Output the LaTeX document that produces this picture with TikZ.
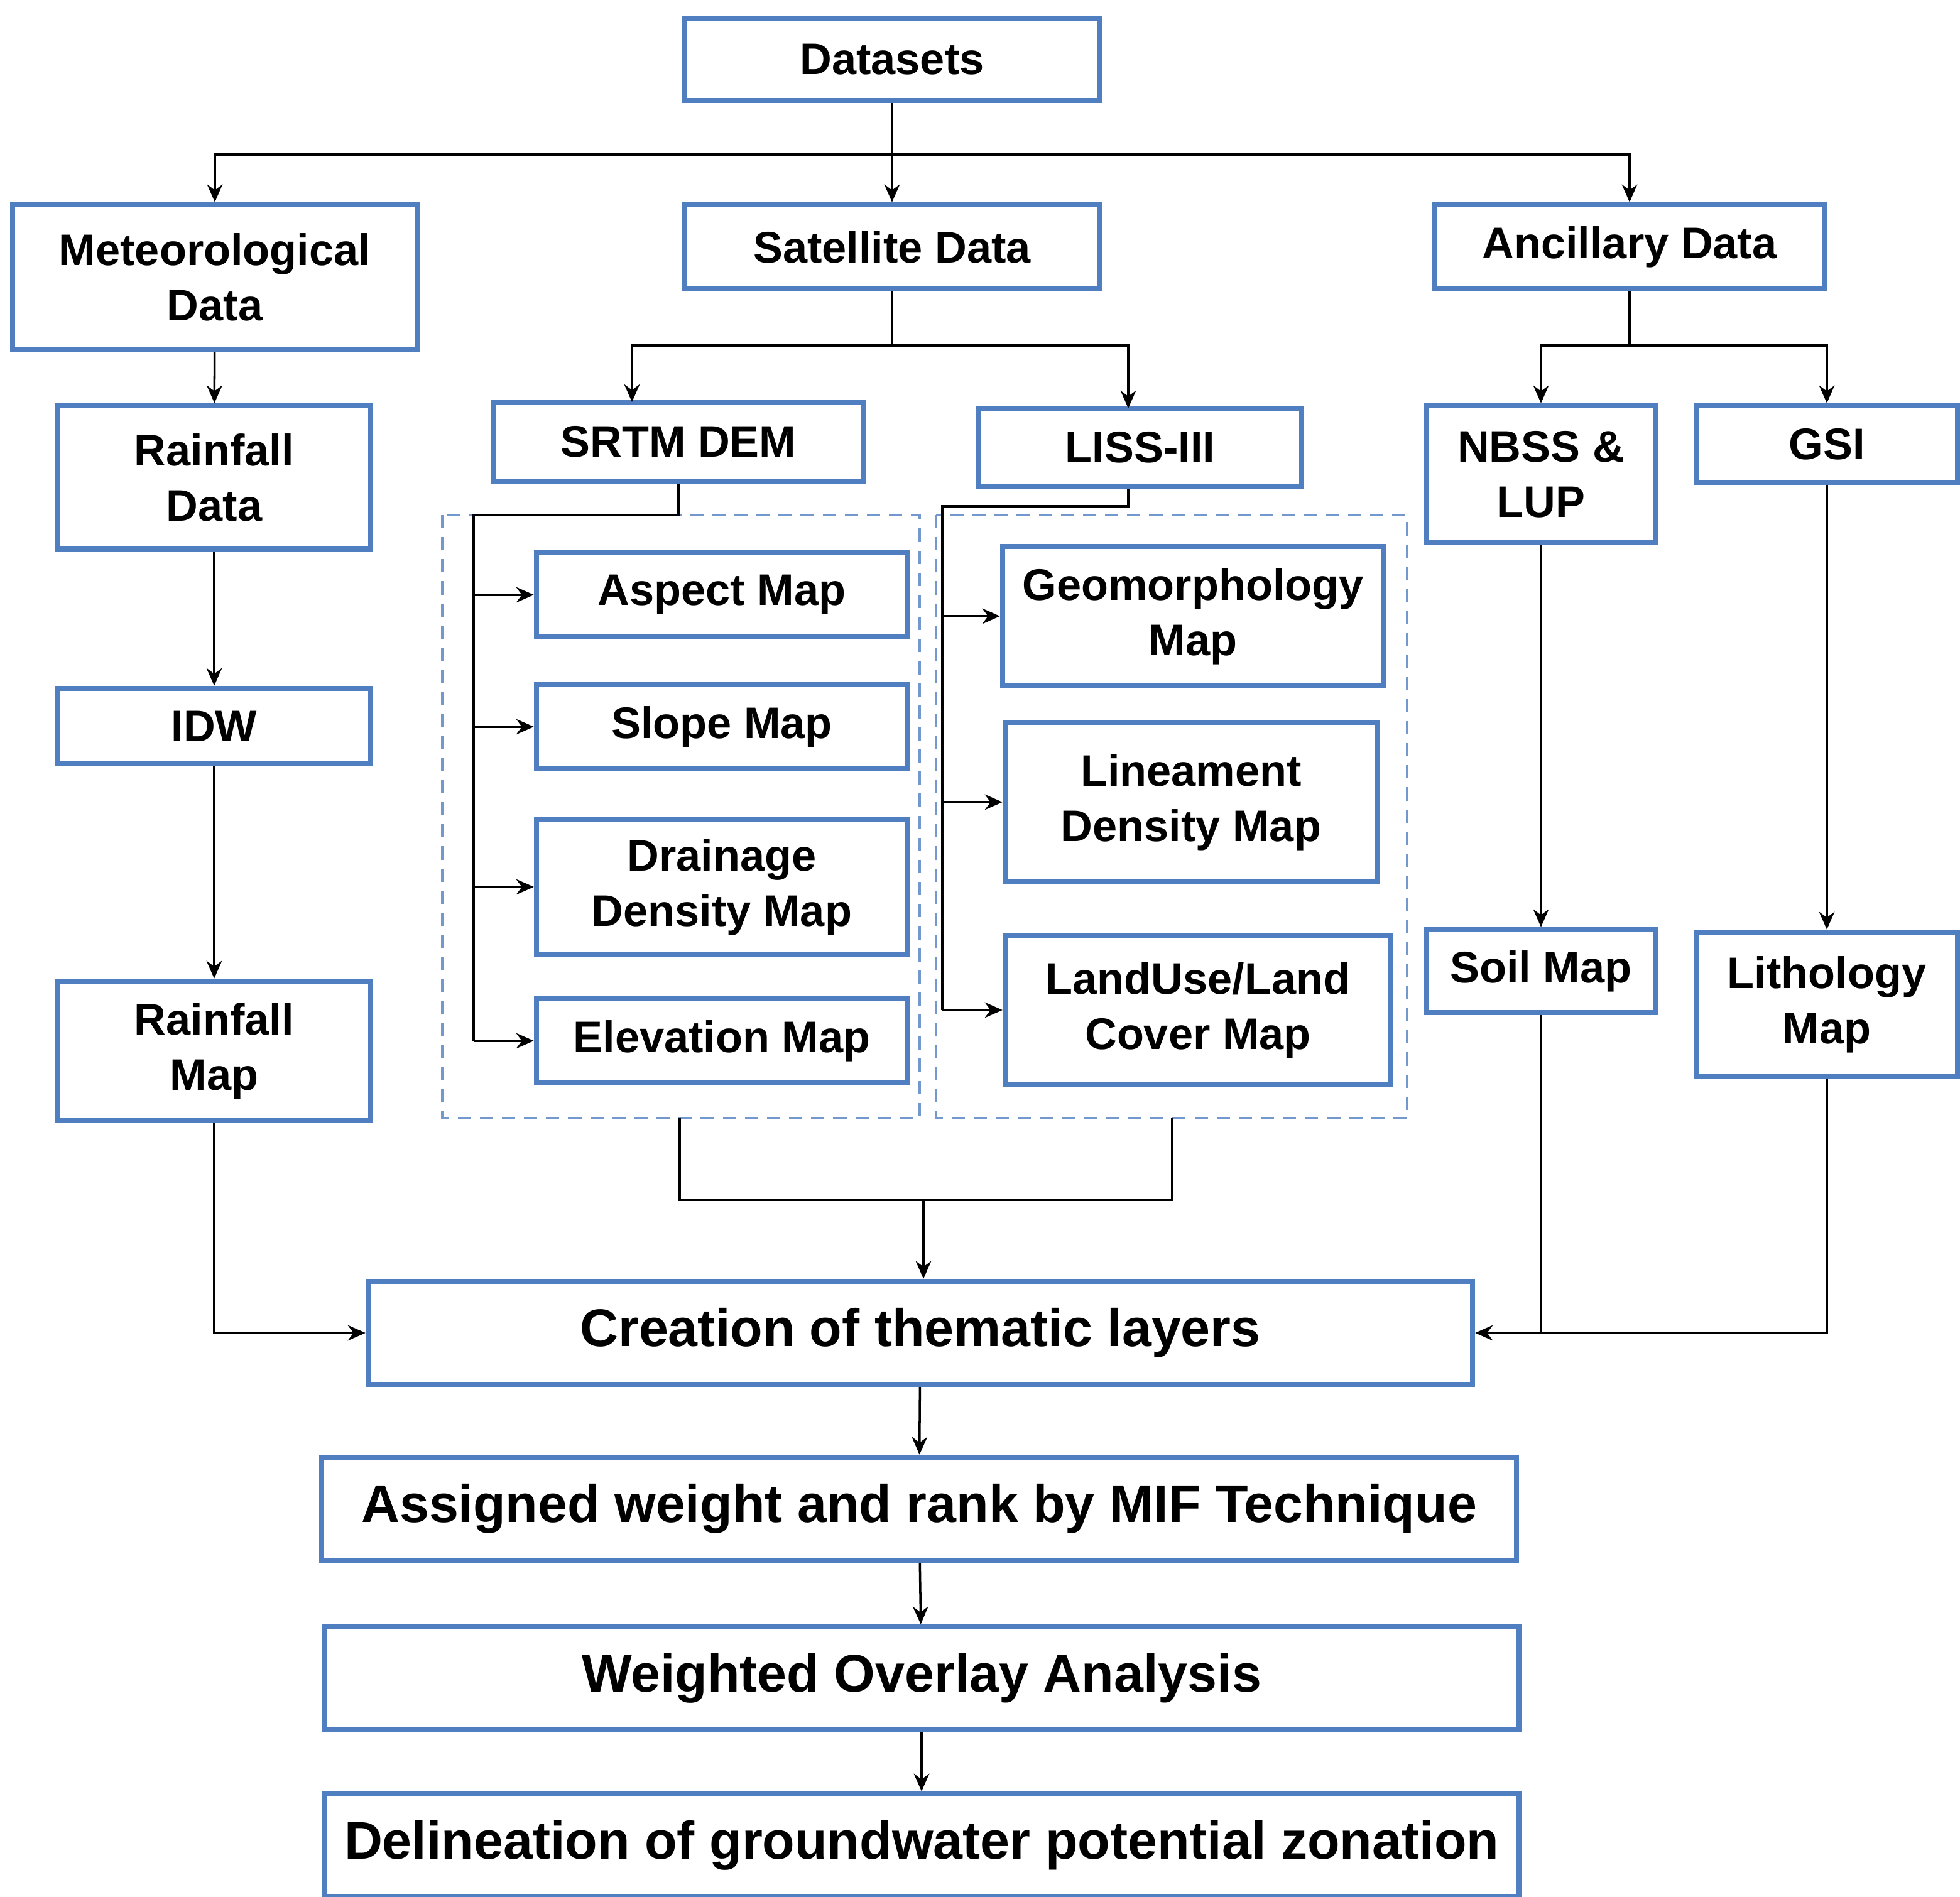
\documentclass[tikz,border=0pt]{standalone}
\usepackage{fontspec}
\setmainfont{Liberation Sans}
\usetikzlibrary{arrows.meta}
\definecolor{boxblue}{HTML}{4F7FC0}
\tikzset{
  x=0.01cm, y=-0.01cm,
  box/.style={draw=boxblue, line width=1.2pt, align=center, inner sep=0pt,
              font=\bfseries\fontsize{10}{12.5}\selectfont},
  big/.style={box, font=\bfseries\fontsize{12}{14}\selectfont},
  arr/.style={-{Stealth[length=4pt,width=3.5pt]}},
  every path/.append style={line width=0.5pt},
}
\newcommand{\bx}[6][box]{\node[#1, minimum width=#5*0.01cm, minimum height=#6*0.01cm] (#2) at (#3,#4)}
\begin{document}
\begin{tikzpicture}
\useasboundingbox (0,0) rectangle (1560,1510);
% boxes
\bx{datasets}{710}{47.5}{330}{65} {Datasets};
\bx{met}{171}{220.5}{322}{115} {Meteorological\\Data};
\bx{sat}{710}{196.5}{330}{67} {Satellite Data};
\bx{anc}{1297}{196.5}{310}{67} {Ancillary Data};
\bx{rd}{170.5}{380}{249}{114} {Rainfall\\Data};
\bx{srtm}{540}{351.5}{294}{63} {SRTM DEM};
\bx{liss}{907.5}{356}{257}{62} {LISS-III};
\bx{nbss}{1226.5}{377.5}{183}{109} {NBSS \&\\LUP};
\bx{gsi}{1454}{353.5}{208}{61} {GSI};
\bx{aspect}{574.5}{473.5}{295}{67} {Aspect Map};
\bx{slope}{574.5}{578.5}{295}{67} {Slope Map};
\bx{drain}{574.5}{706}{295}{108} {Drainage\\Density Map};
\bx{elev}{574.5}{828.5}{295}{67} {Elevation Map};
\bx{geo}{949.5}{490.5}{303}{111} {Geomorphology\\Map};
\bx{lin}{948}{638.5}{296}{127} {Lineament\\Density Map};
\bx{lu}{953.5}{804}{307}{118} {LandUse/Land\\Cover Map};
\bx{idw}{170.5}{578}{249}{60} {IDW};
\bx{rm}{170.5}{836.5}{249}{111} {Rainfall\\Map};
\bx{soil}{1226.5}{773}{183}{66} {Soil Map};
\bx{lith}{1454}{799.5}{208}{115} {Lithology\\Map};
\bx[big]{crea}{732.5}{1061}{879}{82} {Creation of thematic layers};
\bx[big]{asg}{731.5}{1201}{951}{82} {Assigned weight and rank by MIF Technique};
\bx[big]{wov}{733.5}{1336}{951}{82} {Weighted Overlay Analysis};
\bx[big]{del}{733.5}{1469}{951}{82} {Delineation of groundwater potential zonation};
% dashed groups
\draw[boxblue!80, dashed, dash pattern=on 3pt off 2pt, line width=0.6pt] (352,410) rectangle (732,890);
\draw[boxblue!80, dashed, dash pattern=on 3pt off 2pt, line width=0.6pt] (745,410) rectangle (1120,890);
% coordinates
\coordinate (j1) at (710,123);
\coordinate (j2) at (710,275);
\coordinate (j3) at (1297,275);
\coordinate (srtmIn) at (503,320);
\coordinate (lissIn) at (898,325);
\coordinate (t1) at (377,410);
\coordinate (t2) at (750,403);
\coordinate (j4) at (735,955);
% top level
\draw (datasets) -- (j1);
\draw[arr] (j1) -| (met.north);
\draw[arr] (j1) -| (anc.north);
\draw[arr] (j1) -- (sat);
% satellite
\draw (sat) -- (j2);
\draw[arr] (j2) -| (srtmIn);
\draw[arr] (j2) -| (lissIn);
% ancillary
\draw (anc) -- (j3);
\draw[arr] (j3) -| (nbss.north);
\draw[arr] (j3) -| (gsi.north);
% SRTM tree
\draw (srtm.south) -- (srtm.south |- t1) -- (t1) -- (t1 |- elev.west);
\foreach \n in {aspect,slope,drain,elev} \draw[arr] (t1 |- \n.west) -- (\n.west);
% LISS tree
\draw (lissIn |- liss.south) -- (lissIn |- t2) -- (t2) -- (t2 |- lu.west);
\foreach \n in {geo,lin,lu} \draw[arr] (t2 |- \n.west) -- (\n.west);
% left column
\draw[arr] (met) -- (rd);
\draw[arr] (rd) -- (idw);
\draw[arr] (idw) -- (rm);
\draw[arr] (rm.south) |- (crea.west);
% right columns
\draw[arr] (nbss) -- (soil);
\draw[arr] (gsi) -- (lith);
\draw (soil.south) -- (soil.south |- crea.east);
\draw[arr] (lith.south) |- (crea.east);
% groups into thematic layers
\draw (541,890) -- (541,955) -- (933,955) -- (933,890);
\draw[arr] (j4) -- (j4 |- crea.north);
% bottom chain
\draw[arr] (crea) -- (asg);
\draw[arr] (asg) -- (wov);
\draw[arr] (wov) -- (del);
\end{tikzpicture}
\end{document}
